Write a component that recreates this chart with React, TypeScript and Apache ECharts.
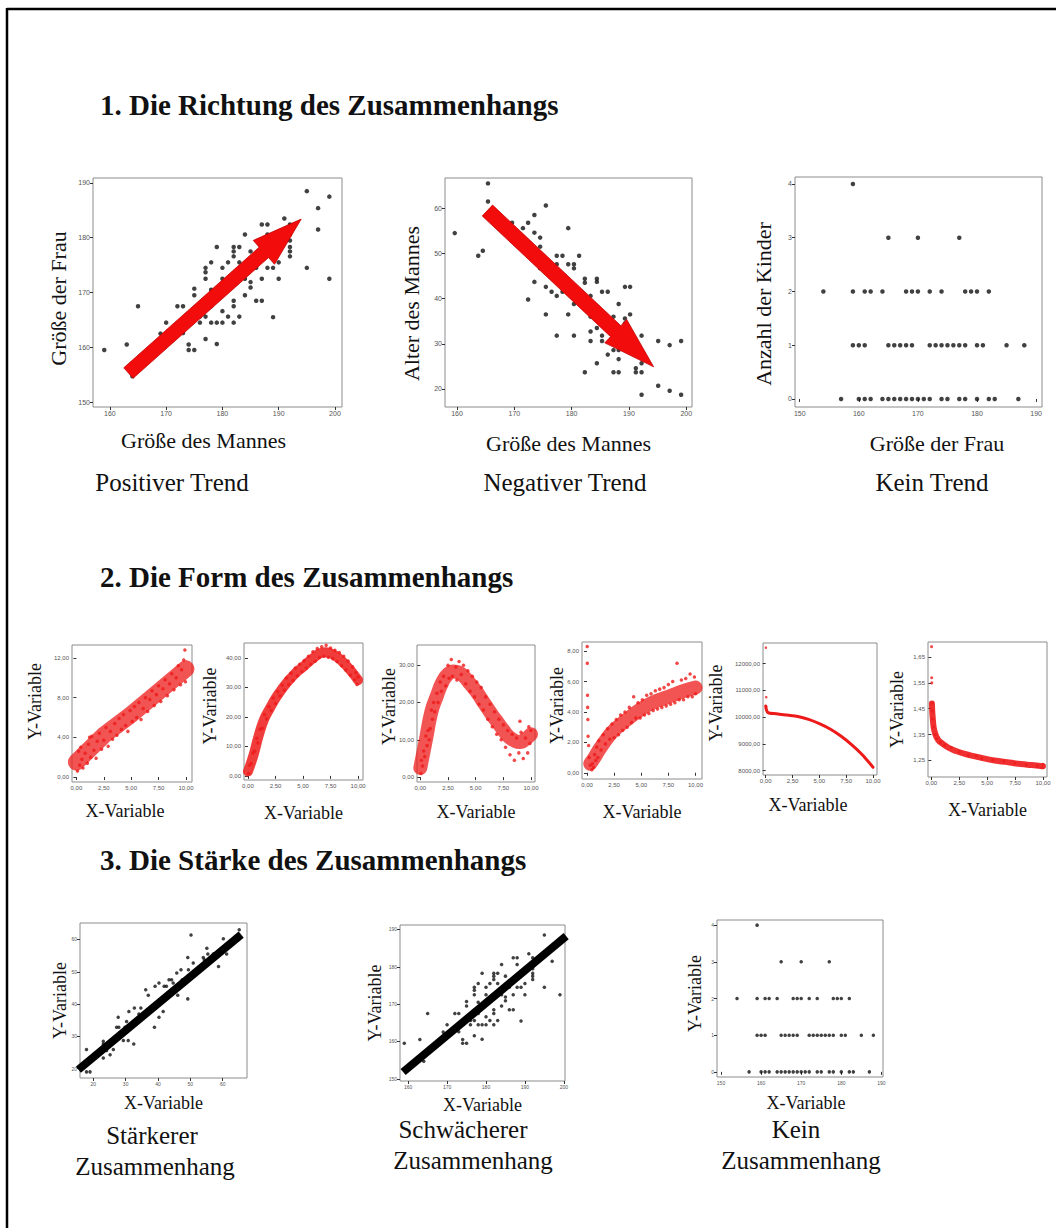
import React, { useEffect, useRef } from "react";
import * as echarts from "echarts";

// ---------- Section 1 data ----------
// Größe des Mannes (x) vs. Größe der Frau (y)
const heightPairs: number[][] = [
  [159, 159.5], [163, 160.5], [164, 154.7], [165, 167.5], [169, 162.5], [170, 164.5], [172, 167.5], [173, 167.5],
  [173, 162.6], [174, 160.5], [174, 159.5], [175, 159.5], [175, 170.7], [175, 169.5], [176, 165.6], [176, 164.5],
  [177, 174.5], [177, 173.7], [177, 172.5], [177, 165.6], [177, 161.5], [178, 175.5], [178, 170.5], [178, 167.5],
  [178, 164.5], [179, 178.3], [179, 164.5], [179, 160.6], [180, 174.5], [180, 172.5], [180, 166.6], [180, 164.5],
  [181, 175.5], [181, 165.6], [182, 178.3], [182, 177.5], [182, 176.6], [182, 168.5], [182, 167.5], [182, 164.5],
  [183, 178.3], [183, 175.5], [183, 165.6], [184, 180.6], [184, 172.5], [184, 169.5], [185, 177.5], [185, 171.9],
  [185, 170.9], [186, 174.5], [186, 168.5], [187, 182.4], [187, 172.5], [187, 168.5], [188, 182.4], [188, 180.6],
  [188, 174.5], [189, 174.5], [189, 165.5], [190, 175.5], [190, 172.5], [191, 183.5], [192, 182.4], [192, 180.6],
  [192, 179.5], [192, 178.3], [192, 177.5], [192, 176.6], [195, 188.5], [195, 174.5], [197, 185.4], [197, 181.5],
  [199, 187.5], [199, 172.5],
];
// Größe des Mannes (x) vs. Alter des Mannes (y)
const agePairs: number[][] = [
  [159.6, 54.5], [163.7, 49.5], [164.5, 50.6], [165.4, 65.5], [165.4, 61.5], [169.6, 56.8], [171.5, 55.6],
  [172.4, 56.8], [172.4, 39.8], [173.5, 58.5], [173.5, 54.6], [173.5, 43.7], [174.5, 53.5], [174.5, 51.5],
  [174.5, 46.7], [175.5, 60.6], [175.5, 42.6], [175.5, 36.5], [176.5, 41.5], [177.4, 49.5], [177.4, 47.6],
  [177.4, 40.6], [177.4, 31.8], [178.4, 49.5], [178.4, 41.5], [179.4, 55.6], [179.4, 47.6], [179.4, 36.5],
  [180.4, 47.6], [180.4, 46.7], [180.4, 38.8], [180.4, 31.8], [181.3, 49.5], [182.3, 44.4], [182.3, 43.5],
  [182.3, 23.7], [183.3, 40.6], [183.3, 36], [183.3, 32.7], [183.3, 30.6], [184.4, 44.4], [184.4, 43.7],
  [184.4, 33.5], [184.4, 25.7], [185.3, 41.5], [185.3, 31.8], [185.3, 30.6], [186.3, 41.5], [186.3, 27.6],
  [187.3, 36], [187.3, 28.6], [187.3, 23.7], [188.2, 38.8], [188.2, 28.6], [188.2, 26.6], [188.2, 23.7],
  [189.3, 42.6], [189.3, 35.6], [189.3, 34.5], [190.2, 42.6], [190.2, 36.5], [191.2, 24.6], [191.2, 23.7],
  [192.2, 31.8], [192.2, 25.7], [192.2, 23.7], [192.2, 18.7], [195.1, 30.6], [195.1, 20.7], [197.1, 29.7],
  [197.1, 19.6], [199.1, 30.6], [199.1, 18.7],
];
// Größe der Frau (x) vs. Anzahl der Kinder (y)
const kidsPairs: number[][] = [
  [159, 4], [165, 3], [170, 3], [177, 3],
  [154, 2], [159, 2], [161, 2], [162, 2], [164, 2], [168, 2], [169, 2], [170, 2], [172, 2], [174, 2], [178, 2],
  [179, 2], [180, 2], [182, 2],
  [159, 1], [160, 1], [161, 1], [165, 1], [166, 1], [167, 1], [168, 1], [169, 1], [172, 1], [173, 1], [174, 1],
  [175, 1], [176, 1], [177, 1], [178, 1], [180, 1], [181, 1], [185, 1], [188, 1],
  [157, 0], [160, 0], [161, 0], [162, 0], [164, 0], [165, 0], [166, 0], [167, 0], [168, 0], [169, 0], [170, 0],
  [171, 0], [172, 0], [174, 0], [175, 0], [177, 0], [178, 0], [180, 0], [182, 0], [183, 0], [187, 0],
];
// arrows: [x start, y start, x end, y end]
const posArrow = [163.3, 155.3, 194, 183.4];
const negArrow = [165.3, 59.5, 194.3, 24.9];

// ---------- Section 2 data ----------
const linearCenter = [[0, 1.5], [2.5, 4.2], [5, 6.3], [7.5, 8.6], [10, 10.9]];
const linearPoints = [
  [0.1, 0.6], [0.2, 2.6], [0.3, 1.2], [0.4, 3.0], [0.5, 1.8], [0.6, 0.9], [0.8, 2.4], [1.0, 1.4], [1.1, 3.3],
  [1.2, 4.0], [1.3, 2.0], [1.4, 4.1], [1.6, 2.7], [1.8, 1.9], [1.9, 3.6], [2.1, 4.4], [2.3, 2.8], [2.5, 3.7],
  [2.7, 5.0], [2.9, 3.1], [3.1, 4.6], [3.3, 3.8], [3.5, 5.4], [3.7, 4.2], [3.9, 5.9], [4.1, 4.8], [4.3, 6.3],
  [4.5, 5.2], [4.7, 4.6], [4.9, 6.7], [5.1, 5.6], [5.3, 7.1], [5.5, 6.0], [5.7, 7.5], [5.9, 5.8], [6.1, 6.9],
  [6.3, 8.0], [6.5, 6.6], [6.7, 7.8], [6.9, 8.7], [7.1, 7.2], [7.3, 8.3], [7.5, 9.2], [7.7, 7.6], [7.9, 8.9],
  [8.1, 9.8], [8.3, 8.2], [8.5, 9.4], [8.7, 10.4], [8.9, 8.8], [9.1, 10.0], [9.3, 11.2], [9.5, 9.3], [9.6, 10.8],
  [9.8, 11.8], [9.9, 12.8], [9.95, 9.6],
];
const parabolaCenter = [
  [0, 1.5], [0.5, 7], [1, 14], [1.5, 19.5], [2, 23], [2.5, 26.3], [3, 29], [3.5, 31.5], [4, 33.6], [4.5, 35.5],
  [5, 37], [5.5, 38.7], [6, 40.2], [6.5, 41.5], [7, 42], [7.5, 41.6], [8, 40.6], [8.5, 39.1], [9, 37.2],
  [9.5, 35], [10, 32.5],
];
const parabolaPoints = [
  [0.05, 0.8], [0.15, 3.6], [0.3, 4.2], [0.45, 7.8], [0.6, 8.4], [0.8, 12.8], [0.9, 11.2], [1.1, 15.8],
  [1.3, 16.2], [1.5, 20.8], [1.7, 19.4], [1.9, 23.5], [2.1, 22.2], [2.3, 26.4], [2.5, 24.6], [2.7, 28.6],
  [2.9, 27.2], [3.1, 30.8], [3.3, 29.1], [3.5, 33.2], [3.7, 31.0], [3.9, 34.8], [4.1, 32.4], [4.3, 36.6],
  [4.5, 34.0], [4.7, 37.9], [4.9, 35.4], [5.1, 39.1], [5.3, 36.6], [5.5, 40.6], [5.7, 37.9], [5.9, 42.1],
  [6.1, 38.9], [6.3, 43.2], [6.5, 40.2], [6.7, 43.8], [6.9, 40.6], [7.1, 44.3], [7.3, 40.3], [7.5, 43.4],
  [7.7, 39.8], [7.9, 42.6], [8.1, 38.8], [8.3, 41.9], [8.5, 37.4], [8.7, 40.6], [8.9, 35.9], [9.1, 39.0],
  [9.3, 34.2], [9.5, 37.0], [9.7, 32.6], [9.8, 35.1], [9.9, 31.0], [10.0, 33.6],
];
const waveCenter = [
  [0, 2.5], [0.5, 10], [1, 17.5], [1.5, 21.8], [2, 25.5], [2.5, 27.6], [3, 28.3], [3.5, 28], [4, 26.8],
  [4.5, 25], [5, 23.2], [5.5, 21], [6, 18.8], [6.5, 16.6], [7, 14.6], [7.5, 12.6], [8, 10.8], [8.5, 9.8],
  [9, 9.4], [9.5, 10.2], [10, 11.5],
];
const wavePoints = [
  [0.05, 1], [0.1, 4.5], [0.2, 3], [0.3, 7], [0.4, 5.5], [0.5, 11], [0.6, 8.5], [0.7, 12.5], [0.8, 10],
  [0.9, 13], [1.0, 18], [1.1, 15.5], [1.2, 20], [1.3, 17.5], [1.5, 22.5], [1.6, 20], [1.8, 25.5], [1.9, 23],
  [2.1, 27], [2.3, 24.5], [2.5, 30], [2.6, 26.5], [2.8, 31.5], [2.9, 27], [3.0, 35.5], [3.2, 29.5], [3.3, 26],
  [3.5, 31], [3.7, 27.5], [3.9, 30], [4.1, 25], [4.3, 28.5], [4.5, 23], [4.7, 27], [4.9, 21.5], [5.1, 25.5],
  [5.3, 19.5], [5.5, 24], [5.7, 18], [5.9, 21.5], [6.1, 15.5], [6.3, 19.5], [6.5, 13.5], [6.7, 17.5],
  [6.9, 11.5], [7.1, 15.5], [7.3, 10], [7.5, 14], [7.7, 8], [7.9, 12.5], [8.1, 6], [8.3, 11.5], [8.5, 4.5],
  [8.7, 10.5], [8.9, 6.5], [9.0, 15], [9.1, 12], [9.3, 5], [9.5, 10.5], [9.7, 6.5], [9.8, 13.5], [9.9, 9],
  [10.0, 12.5],
];
const logCenter = [
  [0.3, 0.6], [0.6, 0.9], [1.2, 1.6], [2, 2.4], [2.5, 2.8], [3.5, 3.4], [5, 4.2], [6, 4.6], [7.5, 5.0],
  [9, 5.4], [10, 5.6],
];
const logPoints = [
  [0.02, 8.3], [0.03, 7.2], [0.05, 5.1], [0.06, 4.3], [0.08, 3.5], [0.1, 2.4], [0.15, 1.8], [0.2, 1.0],
  [0.3, 0.5], [0.45, 0.2], [0.5, 0.6], [0.6, 0.35], [0.7, 1.2], [0.8, 0.8], [0.9, 1.7], [1.0, 1.0], [1.1, 2.1],
  [1.3, 1.5], [1.5, 2.5], [1.7, 1.9], [1.9, 2.9], [2.1, 2.2], [2.3, 3.2], [2.5, 2.3], [2.7, 3.5], [2.9, 2.5],
  [3.1, 3.8], [3.3, 2.8], [3.5, 4.0], [3.7, 3.0], [3.9, 4.3], [4.1, 3.3], [4.3, 5.0], [4.5, 3.6], [4.7, 4.6],
  [4.9, 3.6], [5.1, 4.8], [5.3, 3.8], [5.5, 5.1], [5.7, 3.9], [5.9, 5.2], [6.1, 4.1], [6.3, 5.4], [6.5, 4.2],
  [6.7, 5.5], [6.9, 4.3], [7.1, 5.6], [7.3, 4.4], [7.5, 5.8], [7.7, 4.5], [7.9, 6.0], [8.1, 4.6], [8.3, 7.2],
  [8.5, 4.8], [8.7, 6.1], [8.9, 4.8], [9.1, 6.2], [9.3, 5.0], [9.5, 6.5], [9.7, 5.0], [9.9, 6.3], [10.0, 5.2],
];
const cubicCenter = [
  [0, 10420], [0.2, 10180], [1, 10130], [2, 10080], [3, 10030], [4, 9920], [5, 9760], [6, 9560], [7, 9300],
  [8, 8980], [9, 8600], [10, 8130],
];
const cubicPoints = [[0.02, 12600], [0.05, 10750], [0.05, 10400]];
const reciprocalCenter = [
  [0.05, 1.47], [0.15, 1.4], [0.3, 1.36], [0.6, 1.33], [1, 1.315], [1.5, 1.3], [2, 1.29], [3, 1.275],
  [4, 1.265], [5, 1.255], [6, 1.248], [7, 1.242], [8, 1.236], [9, 1.232], [10, 1.228],
];
const reciprocalPoints = [
  [0.02, 1.69], [0.03, 1.57], [0.04, 1.55], [0.07, 1.47], [0.1, 1.44], [0.12, 1.41], [0.2, 1.38], [0.35, 1.35],
  [0.5, 1.335], [0.8, 1.32], [1.2, 1.31], [1.8, 1.3], [2.5, 1.283], [3.3, 1.27], [4, 1.268], [4.5, 1.257],
  [5.5, 1.252], [6.5, 1.247], [7.5, 1.24], [8.5, 1.232], [9.5, 1.228], [9.9, 1.222], [10.0, 1.235],
];

// ---------- Section 3 data ----------
const strongPairs = [
  [17.9, 25.9], [17.9, 19.0], [19, 19], [23.1, 28.5], [23.1, 27.6], [24.1, 25.6], [23.1, 23.3], [25.2, 24.3],
  [26.2, 25.9], [27.7, 35.9], [27.2, 32.8], [27.9, 32.8], [29.3, 28.7], [30.8, 28.7], [30.3, 34.6], [31.0, 37.7],
  [29.8, 32.8], [32.7, 38.8], [32.5, 27.6], [34.1, 36.9], [34.7, 38.8], [36.2, 44.4], [37.0, 42.7], [37.5, 37.7],
  [38.9, 32.8], [39.1, 45.5], [40.3, 46.5], [40.3, 35.9], [41.6, 37.7], [41.9, 45.5], [42.6, 45.5], [43.4, 47.5],
  [44.2, 47.5], [44.7, 46.5], [46.1, 42.7], [45.8, 49.6], [47.1, 50.6], [47.5, 47.5], [48.1, 47.5], [49.2, 54.4],
  [49.2, 41.6], [49.4, 50.6], [50.2, 61.4], [50.9, 52.7], [54.0, 54.4], [54.3, 53.7], [55.1, 57.3], [55.4, 55.5],
  [57.1, 55.5], [57.4, 55.5], [58.7, 51.6], [60.2, 60.2], [61.2, 55.5], [65.1, 63.0],
];
const strongFit = [[15.4, 19.7], [65.7, 61.5]];
const weakFit = [[158.7, 151.8], [200.6, 188.2]];

// ---------- tick values ----------
const heightTicks = [160, 170, 180, 190, 200];
const womanTicks = [150, 160, 170, 180, 190];
const ageTicks = [20, 30, 40, 50, 60];
const kidsTicks = [0, 1, 2, 3, 4];
const womanXTicks = [150, 160, 170, 180, 190];
const formXTicks = [0, 2.5, 5, 7.5, 10];
const linearYTicks = [0, 4, 8, 12];
const parabolaYTicks = [0, 10, 20, 30, 40];
const waveYTicks = [0, 10, 20, 30];
const logYTicks = [0, 2, 4, 6, 8];
const cubicYTicks = [8000, 9000, 10000, 11000, 12000];
const reciprocalYTicks = [1.25, 1.35, 1.45, 1.55, 1.65];
const strongTicks = [20, 30, 40, 50, 60];

const SERIF = '"Liberation Serif", "Times New Roman", serif';
const SANS = '"Liberation Sans", Arial, sans-serif';
const RED = "#ee1a1a";

const comma = (v: number) => v.toFixed(2).replace(".", ",");

type AxisCfg = {
  min: number; max: number; ticks: number[]; name: string; gap: number; pad?: number[];
  nameSize: number; fmt?: (v: number) => string;
};
type PlotCfg = { left: number; top: number; width: number; height: number; tick: number; x: AxisCfg; y: AxisCfg };

const plots: PlotCfg[] = [
  // Section 1
  { left: 93, top: 178, width: 249, height: 229, tick: 7,
    x: { min: 157, max: 201.25, ticks: heightTicks, name: "Größe des Mannes", gap: 22, pad: [0, 28, 0, 0], nameSize: 22 },
    y: { min: 149.1, max: 190.9, ticks: womanTicks, name: "Größe der Frau", gap: 24, pad: [0, 12, 0, 0], nameSize: 22 } },
  { left: 445, top: 178, width: 247, height: 229, tick: 7,
    x: { min: 157.9, max: 201, ticks: heightTicks, name: "Größe des Mannes", gap: 25, nameSize: 22 },
    y: { min: 16, max: 66.7, ticks: ageTicks, name: "Alter des Mannes", gap: 23, pad: [0, 22, 0, 0], nameSize: 22 } },
  { left: 795, top: 177, width: 247, height: 230, tick: 7,
    x: { min: 149.2, max: 191, ticks: womanXTicks, name: "Größe der Frau", gap: 25, pad: [0, 0, 0, 37], nameSize: 22 },
    y: { min: -0.15, max: 4.13, ticks: kidsTicks, name: "Anzahl der Kinder", gap: 21, pad: [0, 24, 0, 0], nameSize: 22 } },
  // Section 2
  { left: 72, top: 645, width: 120, height: 137, tick: 6,
    x: { min: -0.4, max: 10.55, ticks: formXTicks, name: "X-Variable", gap: 20, pad: [0, 14, 0, 0], nameSize: 18, fmt: comma },
    y: { min: -0.5, max: 13.3, ticks: linearYTicks, name: "Y-Variable", gap: 28, pad: [0, 0, 0, 24], nameSize: 18, fmt: comma } },
  { left: 244, top: 643, width: 119, height: 137, tick: 6,
    x: { min: -0.36, max: 10.45, ticks: formXTicks, name: "X-Variable", gap: 24, nameSize: 18, fmt: comma },
    y: { min: -1.4, max: 45.1, ticks: parabolaYTicks, name: "Y-Variable", gap: 25, pad: [0, 0, 0, 11], nameSize: 18, fmt: comma } },
  { left: 417, top: 645, width: 118, height: 137, tick: 6,
    x: { min: -0.3, max: 10.36, ticks: formXTicks, name: "X-Variable", gap: 21, nameSize: 18, fmt: comma },
    y: { min: -1.3, max: 35.4, ticks: waveYTicks, name: "Y-Variable", gap: 19, pad: [0, 0, 0, 14], nameSize: 18, fmt: comma } },
  { left: 582, top: 642, width: 120, height: 137, tick: 6,
    x: { min: -0.46, max: 10.6, ticks: formXTicks, name: "X-Variable", gap: 24, nameSize: 18, fmt: comma },
    y: { min: -0.41, max: 8.6, ticks: logYTicks, name: "Y-Variable", gap: 16, pad: [0, 0, 0, 10], nameSize: 18, fmt: comma } },
  { left: 763, top: 643, width: 114, height: 132, tick: 6,
    x: { min: -0.25, max: 10.37, ticks: formXTicks, name: "X-Variable", gap: 21, pad: [0, 24, 0, 0], nameSize: 18, fmt: comma },
    y: { min: 7840, max: 12775, ticks: cubicYTicks, name: "Y-Variable", gap: 38, pad: [0, 0, 0, 12], nameSize: 18, fmt: comma } },
  { left: 928, top: 642, width: 119, height: 135, tick: 6,
    x: { min: -0.3, max: 10.36, ticks: formXTicks, name: "X-Variable", gap: 24, nameSize: 18, fmt: comma },
    y: { min: 1.186, max: 1.708, ticks: reciprocalYTicks, name: "Y-Variable", gap: 22, nameSize: 18, fmt: comma } },
  // Section 3
  { left: 80, top: 923, width: 167, height: 155, tick: 5,
    x: { min: 15.9, max: 67.5, ticks: strongTicks, name: "X-Variable", gap: 16, nameSize: 18 },
    y: { min: 17.1, max: 65.1, ticks: strongTicks, name: "Y-Variable", gap: 11, nameSize: 18 } },
  { left: 400, top: 925, width: 165, height: 156, tick: 5,
    x: { min: 157.9, max: 200.3, ticks: heightTicks, name: "X-Variable", gap: 15, nameSize: 18 },
    y: { min: 149.4, max: 191.2, ticks: womanTicks, name: "Y-Variable", gap: 16, nameSize: 18 } },
  { left: 717, top: 920, width: 166, height: 157, tick: 5,
    x: { min: 149, max: 190.4, ticks: womanXTicks, name: "X-Variable", gap: 17, pad: [0, 0, 0, 12], nameSize: 18 },
    y: { min: -0.14, max: 4.14, ticks: kidsTicks, name: "Y-Variable", gap: 13, pad: [0, 0, 0, 10], nameSize: 18 } },
];

function axis(i: number, a: AxisCfg, tick: number) {
  return {
    type: "value",
    gridIndex: i,
    min: a.min,
    max: a.max,
    splitLine: { show: false },
    axisLine: { show: false },
    axisTick: { show: true, customValues: a.ticks, length: 3, lineStyle: { color: "#333", width: 1 } },
    axisLabel: {
      customValues: a.ticks,
      fontSize: tick,
      color: "#555",
      margin: 3,
      fontFamily: SANS,
      formatter: a.fmt ? (v: number) => a.fmt!(v) : (v: number) => String(v),
    },
    name: a.name,
    nameLocation: "middle",
    nameGap: a.gap,
    nameMoveOverlap: false,
    nameTextStyle: {
      fontFamily: SERIF,
      fontSize: a.nameSize,
      color: "#111",
      padding: a.pad || [0, 0, 0, 0],
    },
  };
}

function arrowRenderer(shaftW: number, headW: number, headL: number) {
  return (_params: any, api: any) => {
    const a = api.coord([api.value(0), api.value(1)]);
    const b = api.coord([api.value(2), api.value(3)]);
    const dx = b[0] - a[0];
    const dy = b[1] - a[1];
    const len = Math.hypot(dx, dy);
    const ux = dx / len, uy = dy / len;
    const nx = -uy, ny = ux;
    const bx = b[0] - ux * headL, by = b[1] - uy * headL;
    const s = shaftW / 2, h = headW / 2;
    return {
      type: "polygon",
      shape: {
        points: [
          [a[0] + nx * s, a[1] + ny * s],
          [bx + nx * s, by + ny * s],
          [bx + nx * h, by + ny * h],
          [b[0], b[1]],
          [bx - nx * h, by - ny * h],
          [bx - nx * s, by - ny * s],
          [a[0] - nx * s, a[1] - ny * s],
        ],
      },
      style: { fill: "#f20c0c", stroke: "#c40000", lineWidth: 0.8 },
    };
  };
}

function dots(i: number, data: number[][], size: number, color: string) {
  return {
    type: "scatter", xAxisIndex: i, yAxisIndex: i, data, symbolSize: size,
    itemStyle: { color }, silent: true, z: 3,
  };
}
function band(i: number, data: number[][], width: number, opacity: number, smooth: number | boolean = true) {
  return {
    type: "line", xAxisIndex: i, yAxisIndex: i, data, smooth, showSymbol: false, symbol: "none",
    lineStyle: { color: RED, width, opacity, cap: "round", join: "round" }, silent: true, z: 2,
  };
}
function fit(i: number, data: number[][]) {
  return {
    type: "line", xAxisIndex: i, yAxisIndex: i, data, showSymbol: false, symbol: "none",
    lineStyle: { color: "#000", width: 8 }, silent: true, z: 4, clip: true,
  };
}

function text(x: number, y: number, t: string, font: string, align = "center") {
  return {
    type: "text", x, y, silent: true,
    style: { text: t, font, fill: "#111", align, textAlign: align, verticalAlign: "middle", textVerticalAlign: "middle" },
  };
}

function buildOption() {
  const grid = plots.map((p) => ({
    left: p.left, top: p.top, width: p.width, height: p.height,
    show: true, borderColor: "#8c8c8c", borderWidth: 1, backgroundColor: "transparent",
    outerBoundsMode: "none", containLabel: false,
  }));
  const xAxis = plots.map((p, i) => axis(i, p.x, p.tick));
  const yAxis = plots.map((p, i) => axis(i, p.y, p.tick));

  const series: any[] = [
    dots(0, heightPairs, 4.5, "#111"),
    { type: "custom", xAxisIndex: 0, yAxisIndex: 0, data: [posArrow], encode: { x: [0, 2], y: [1, 3] },
      renderItem: arrowRenderer(14, 32, 50), z: 5, silent: true },
    dots(1, agePairs, 4.5, "#111"),
    { type: "custom", xAxisIndex: 1, yAxisIndex: 1, data: [negArrow], encode: { x: [0, 2], y: [1, 3] },
      renderItem: arrowRenderer(15, 32, 52), z: 5, silent: true },
    dots(2, kidsPairs, 4.5, "#111"),

    band(3, linearCenter, 17, 0.75, false),
    dots(3, linearPoints, 3.5, RED),
    band(4, parabolaCenter, 10, 0.85),
    dots(4, parabolaPoints, 3.5, RED),
    band(5, waveCenter, 14, 0.75),
    dots(5, wavePoints, 3.5, RED),
    band(6, logCenter, 14, 0.75),
    dots(6, logPoints, 3.5, RED),
    band(7, cubicCenter, 3, 1, 0.3),
    dots(7, cubicPoints, 2.5, RED),
    band(8, reciprocalCenter, 6, 0.9),
    dots(8, reciprocalPoints, 3, RED),

    dots(9, strongPairs, 3.5, "#111"),
    fit(9, strongFit),
    dots(10, heightPairs, 3.5, "#111"),
    fit(10, weakFit),
    dots(11, kidsPairs, 3.5, "#111"),
  ];

  const TITLE = `bold 29px ${SERIF}`;
  const CAP = `25px ${SERIF}`;
  const CAP3 = `25px ${SERIF}`;
  const graphic = [
    { type: "line", silent: true, shape: { x1: 7, y1: 9, x2: 1056, y2: 9 }, style: { stroke: "#000", lineWidth: 2.5 } },
    { type: "line", silent: true, shape: { x1: 7, y1: 8, x2: 7, y2: 1228 }, style: { stroke: "#000", lineWidth: 2.5 } },
    text(100, 105, "1. Die Richtung des Zusammenhangs", TITLE, "left"),
    text(100, 577, "2. Die Form des Zusammenhangs", TITLE, "left"),
    text(100, 860, "3. Die Stärke des Zusammenhangs", TITLE, "left"),
    text(172, 482, "Positiver Trend", CAP),
    text(565, 482, "Negativer Trend", CAP),
    text(932, 482, "Kein Trend", CAP),
    text(152, 1135, "Stärkerer", CAP3),
    text(155, 1166, "Zusammenhang", CAP3),
    text(463, 1129, "Schwächerer", CAP3),
    text(473, 1160, "Zusammenhang", CAP3),
    text(796, 1129, "Kein", CAP3),
    text(801, 1160, "Zusammenhang", CAP3),
  ];

  return { animation: false, backgroundColor: "#ffffff", grid, xAxis, yAxis, series, graphic };
}

export default function App() {
  const ref = useRef<HTMLDivElement>(null);
  useEffect(() => {
    if (!ref.current) return;
    const chart = echarts.init(ref.current, null, { renderer: "svg" });
    chart.setOption(buildOption() as any);
    return () => chart.dispose();
  }, []);
  return (
    <div
      ref={ref}
      style={{ position: "absolute", left: 0, top: 0, width: 1056, height: 1228, background: "#fff" }}
    />
  );
}
